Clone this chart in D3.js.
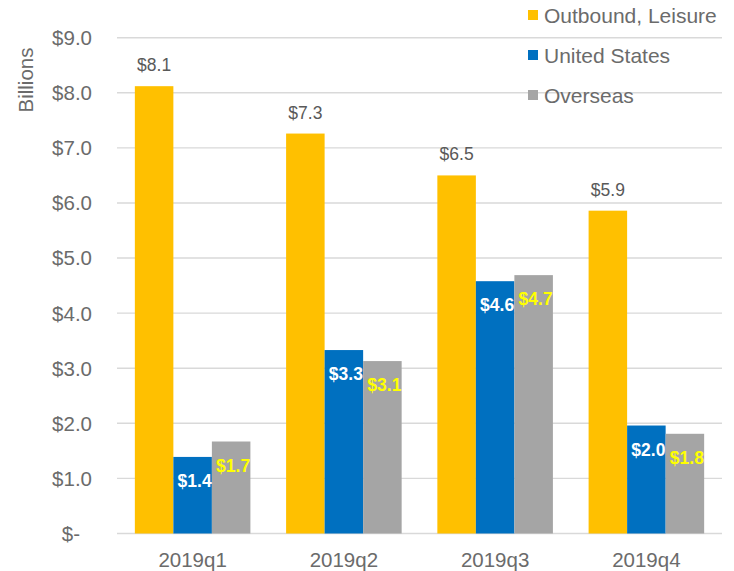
<!DOCTYPE html>
<html>
<head>
<meta charset="utf-8">
<script src="https://cdn.jsdelivr.net/npm/d3@7"></script>
<style>
  html, body { margin: 0; padding: 0; background: #fff; }
  svg { display: block; font-family: "Liberation Sans", Arial, sans-serif; }
</style>
</head>
<body>
<svg id="chart" width="734" height="571"></svg>
<script>
const categories = ["2019q1", "2019q2", "2019q3", "2019q4"];
const seriesNames = ["Outbound, Leisure", "United States", "Overseas"];
const outboundLeisure = [8.12, 7.26, 6.50, 5.86];
const unitedStates = [1.39, 3.33, 4.58, 1.96];
const overseas = [1.67, 3.13, 4.69, 1.81];
const yTicks = [0, 1, 2, 3, 4, 5, 6, 7, 8, 9];
const colors = ["#FFC000", "#0070C0", "#A5A5A5"];

const seriesValues = [outboundLeisure, unitedStates, overseas];
const svg = d3.select("#chart");

const mLeft = 117, mRight = 722, mTop = 37.7, mBottom = 533.5;

const y = d3.scaleLinear().domain([0, 9]).range([mBottom, mTop]);
const p = 0.236;
const x0 = d3.scaleBand().domain(categories).range([mLeft, mRight]).paddingInner(p).paddingOuter(p / 2);
const x1 = d3.scaleBand().domain(seriesNames).range([0, x0.bandwidth()]);

// gridlines
svg.append("g").selectAll("line").data(yTicks).join("line")
  .attr("x1", mLeft).attr("x2", mRight)
  .attr("y1", d => y(d)).attr("y2", d => y(d))
  .attr("stroke", "#D9D9D9").attr("stroke-width", 1.4);

// y tick labels
svg.append("g").selectAll("text").data(yTicks).join("text")
  .attr("x", d => d === 0 ? 80 : 92)
  .attr("y", d => y(d))
  .attr("dy", "0.36em")
  .attr("text-anchor", "end")
  .attr("font-size", 20.5)
  .attr("fill", "#6b6b6b")
  .text(d => d === 0 ? "$-" : "$" + d.toFixed(1));

// y axis title
svg.append("text")
  .attr("transform", "translate(33,80) rotate(-90)")
  .attr("text-anchor", "middle")
  .attr("font-size", 20.5)
  .attr("fill", "#6b6b6b")
  .text("Billions");

// bars
const data = [];
categories.forEach((c, i) => {
  seriesNames.forEach((s, j) => {
    data.push({ cat: c, series: s, si: j, value: seriesValues[j][i] });
  });
});

svg.append("g").selectAll("rect").data(data).join("rect")
  .attr("x", d => x0(d.cat) + x1(d.series))
  .attr("y", d => y(d.value))
  .attr("width", x1.bandwidth())
  .attr("height", d => y(0) - y(d.value))
  .attr("fill", d => colors[d.si]);

// data labels
const fmt = v => "$" + v.toFixed(1);
svg.append("g").selectAll("text").data(data).join("text")
  .attr("x", d => x0(d.cat) + x1(d.series) + x1.bandwidth() / 2 + (d.si === 0 ? 0 : 2))
  .attr("y", d => d.si === 0 ? y(d.value) - 15 : y(d.value) + 30)
  .attr("text-anchor", "middle")
  .attr("font-size", 17.5)
  .attr("font-weight", d => d.si === 0 ? "normal" : "bold")
  .attr("fill", d => d.si === 0 ? "#595959" : (d.si === 1 ? "#FFFFFF" : "#FFFF00"))
  .text(d => fmt(d.value));

// x labels
svg.append("g").selectAll("text").data(categories).join("text")
  .attr("x", d => x0(d) + x0.bandwidth() / 2)
  .attr("y", 567)
  .attr("text-anchor", "middle")
  .attr("font-size", 20.5)
  .attr("fill", "#6b6b6b")
  .text(d => d);

// legend
const lg = svg.append("g").selectAll("g").data(seriesNames).join("g")
  .attr("transform", (d, i) => `translate(528,${15 + i * 40})`);
lg.append("rect").attr("x", 0).attr("y", -5).attr("width", 10).attr("height", 10)
  .attr("fill", (d, i) => colors[i]);
lg.append("text").attr("x", 16).attr("y", 0).attr("dy", "0.36em")
  .attr("font-size", 21).attr("fill", "#6b6b6b")
  .text(d => d);
</script>
</body>
</html>
